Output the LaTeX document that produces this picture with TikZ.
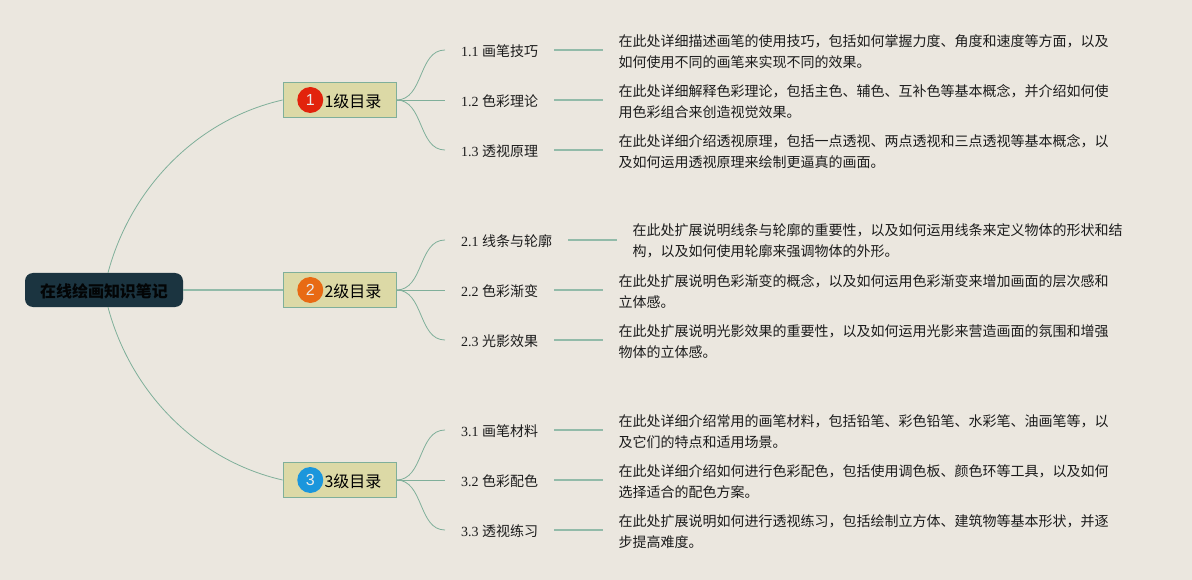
\documentclass[tikz,border=0pt]{standalone}
\usepackage{fontspec}
\usepackage{xcolor}
\usetikzlibrary{positioning}
\setmainfont{Liberation Serif}
\newfontfamily\cjk{Noto Sans CJK SC}
\newfontfamily\badgefont{Liberation Sans}
\definecolor{paper}{HTML}{EBE7DF}
\definecolor{rootfill}{HTML}{1B3440}
\definecolor{boxfill}{HTML}{DCD9A6}
\definecolor{branch}{HTML}{7FAF9A}
\definecolor{inktext}{HTML}{1C1C1C}

\begin{document}
\begin{tikzpicture}[
  x=1pt, y=-1pt,
  root/.style={fill=rootfill, rounded corners=8pt, minimum width=158pt, minimum height=34pt, inner sep=0pt, text height=16pt, text depth=0.5pt, text=black!90!rootfill, font=\cjk\bfseries\fontsize{16}{18}\selectfont},
  box/.style={draw=branch, fill=boxfill, line width=0.8pt, minimum height=35pt, inner xsep=14.6pt, inner ysep=0pt, text height=15pt, text depth=0.5pt, text=black, font=\cjk\fontsize{16}{18}\selectfont},
  badge/.style={circle, minimum size=26pt, inner sep=0pt, text=white!92!black, font=\badgefont\fontsize{16}{18}\selectfont},
  leaf/.style={inner xsep=16pt, inner ysep=0pt, text height=13pt, text depth=0.6pt, text=inktext, font=\fontsize{14}{18}\selectfont},
  note/.style={inner xsep=15pt, inner ysep=0pt, yshift=-1.2pt, align=left, text=inktext, font=\cjk\fontsize{14}{21}\selectfont},
  link/.style={draw=branch, line width=0.8pt},
  stem/.style={draw=branch!85!white, line width=1.3pt},
  node distance=49pt
]
\useasboundingbox (0,0) rectangle (1192,580);
\fill[paper] (0,0) rectangle (1192,580);

\node[root] (root) at (104,290) {在线绘画知识笔记};

\node[box] (l1) at (339.5,100) {\hspace*{27pt}1{\cjk 级目录}};
\node[box] (l2) at (339.5,290) {\hspace*{27pt}2{\cjk 级目录}};
\node[box] (l3) at (339.5,480) {\hspace*{27pt}3{\cjk 级目录}};
\node[badge, fill={rgb,255:red,226;green,35;blue,12}, right=14.5pt of l1.west] (b1) {1};
\node[badge, fill={rgb,255:red,232;green,106;blue,20}, right=14.5pt of l2.west] (b2) {2};
\node[badge, fill={rgb,255:red,27;green,150;blue,220}, right=14.5pt of l3.west] (b3) {3};

\node[leaf, anchor=west] (a1) at (445,50)  {1.1 {\cjk 画笔技巧}};
\node[leaf, anchor=west] (a2) at (445,100) {1.2 {\cjk 色彩理论}};
\node[leaf, anchor=west] (a3) at (445,150) {1.3 {\cjk 透视原理}};
\node[leaf, anchor=west] (c1) at (445,240) {2.1 {\cjk 线条与轮廓}};
\node[leaf, anchor=west] (c2) at (445,290) {2.2 {\cjk 色彩渐变}};
\node[leaf, anchor=west] (c3) at (445,340) {2.3 {\cjk 光影效果}};
\node[leaf, anchor=west] (d1) at (445,430) {3.1 {\cjk 画笔材料}};
\node[leaf, anchor=west] (d2) at (445,480) {3.2 {\cjk 色彩配色}};
\node[leaf, anchor=west] (d3) at (445,530) {3.3 {\cjk 透视练习}};

\node[note, right=of a1] (n1) {在此处详细描述画笔的使用技巧，包括如何掌握力度、角度和速度等方面，以及\\如何使用不同的画笔来实现不同的效果。};
\node[note, right=of a2] (n2) {在此处详细解释色彩理论，包括主色、辅色、互补色等基本概念，并介绍如何使\\用色彩组合来创造视觉效果。};
\node[note, right=of a3] (n3) {在此处详细介绍透视原理，包括一点透视、两点透视和三点透视等基本概念，以\\及如何运用透视原理来绘制更逼真的画面。};
\node[note, right=of c1] (n4) {在此处扩展说明线条与轮廓的重要性，以及如何运用线条来定义物体的形状和结\\构，以及如何使用轮廓来强调物体的外形。};
\node[note, right=of c2] (n5) {在此处扩展说明色彩渐变的概念，以及如何运用色彩渐变来增加画面的层次感和\\立体感。};
\node[note, right=of c3] (n6) {在此处扩展说明光影效果的重要性，以及如何运用光影来营造画面的氛围和增强\\物体的立体感。};
\node[note, right=of d1] (n7) {在此处详细介绍常用的画笔材料，包括铅笔、彩色铅笔、水彩笔、油画笔等，以\\及它们的特点和适用场景。};
\node[note, right=of d2] (n8) {在此处详细介绍如何进行色彩配色，包括使用调色板、颜色环等工具，以及如何\\选择适合的配色方案。};
\node[note, right=of d3] (n9) {在此处扩展说明如何进行透视练习，包括绘制立方体、建筑物等基本形状，并逐\\步提高难度。};

\draw[link] ([xshift=4pt]root.north) .. controls (130,190) and (195,120) .. (l1.west);
\draw[stem] (root.east) -- (l2.west);
\draw[link] ([xshift=4pt]root.south) .. controls (130,390) and (195,460) .. (l3.west);

\draw[link] (l1.east) .. controls (424,100) and (418,50) .. (a1.west);
\draw[link] (l1.east) -- (a2.west);
\draw[link] (l1.east) .. controls (424,100) and (418,150) .. (a3.west);
\draw[link] (l2.east) .. controls (424,290) and (418,240) .. (c1.west);
\draw[link] (l2.east) -- (c2.west);
\draw[link] (l2.east) .. controls (424,290) and (418,340) .. (c3.west);
\draw[link] (l3.east) .. controls (424,480) and (418,430) .. (d1.west);
\draw[link] (l3.east) -- (d2.west);
\draw[link] (l3.east) .. controls (424,480) and (418,530) .. (d3.west);

\draw[stem] (a1.east) -- (n1.west |- a1.east);
\draw[stem] (a2.east) -- (n2.west |- a2.east);
\draw[stem] (a3.east) -- (n3.west |- a3.east);
\draw[stem] (c1.east) -- (n4.west |- c1.east);
\draw[stem] (c2.east) -- (n5.west |- c2.east);
\draw[stem] (c3.east) -- (n6.west |- c3.east);
\draw[stem] (d1.east) -- (n7.west |- d1.east);
\draw[stem] (d2.east) -- (n8.west |- d2.east);
\draw[stem] (d3.east) -- (n9.west |- d3.east);
\end{tikzpicture}
\end{document}
